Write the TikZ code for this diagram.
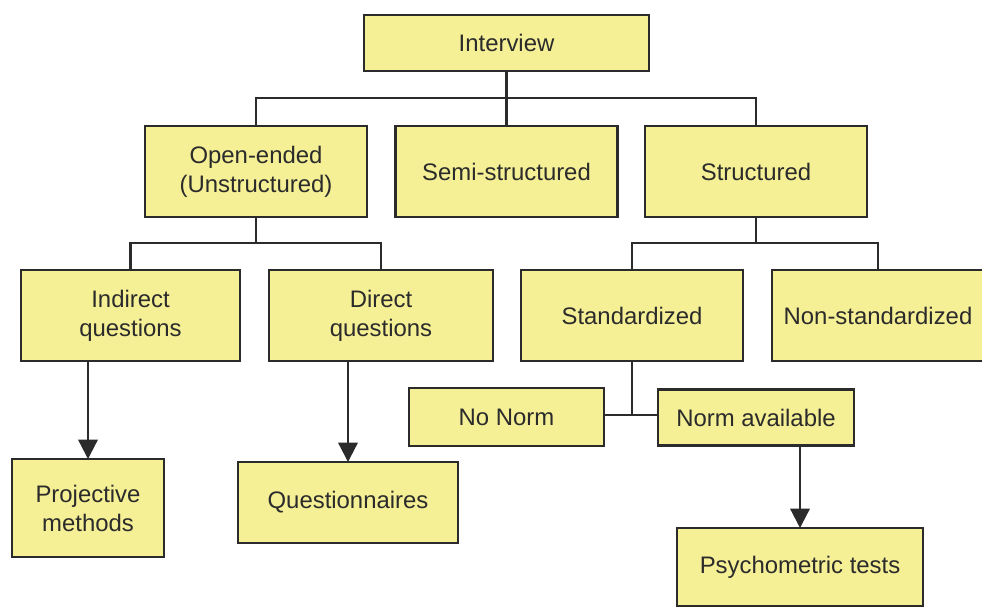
\documentclass[tikz,border=0pt]{standalone}
\usepackage{fontspec}
\setmainfont{Liberation Sans}
\usepackage{xcolor}
\usepackage{tikz}
\usetikzlibrary{arrows.meta,positioning}
\definecolor{boxfill}{HTML}{F5EF96}
\definecolor{ink}{HTML}{2B2B2B}
\tikzset{
  box/.style={draw=ink, fill=boxfill, line width=1.3pt, inner sep=0pt, outer sep=0pt,
    align=center, text=ink, font=\fontsize{13.6}{16.5}\selectfont},
  link/.style={draw=ink, line width=1.3pt},
  arr/.style={link, -{Triangle[length=11pt,width=11pt]}},
}

\begin{document}
\begin{tikzpicture}[x=0.02cm, y=-0.02cm]
  \useasboundingbox (0,0) rectangle (982,608);
  % level 0 and 1
  \node[box, minimum width=5.70cm, minimum height=1.12cm] (interview) at (506.5,43) {Interview};
  \node[box, minimum width=4.44cm, minimum height=1.82cm] (openended) at (256,171.5) {Open-ended\\(Unstructured)};
  \node[box, minimum width=4.44cm, minimum height=1.82cm] (semi) at (506.5,171.5) {Semi-structured};
  \node[box, minimum width=4.44cm, minimum height=1.82cm] (structured) at (756,171.5) {Structured};
  % level 2
  \node[box, minimum width=4.38cm, minimum height=1.82cm] (indirect) at (130.5,315.5) {Indirect\\questions};
  \node[box, minimum width=4.48cm, minimum height=1.82cm] (direct) at (381,315.5) {Direct\\questions};
  \node[box, minimum width=4.44cm, minimum height=1.82cm] (standardized) at (632,315.5) {Standardized};
  \node[box, minimum width=4.24cm, minimum height=1.82cm] (nonstd) at (878,315.5) {Non-standardized};
  % norms
  \node[box, minimum width=3.90cm, minimum height=1.16cm] (nonorm) at (506.5,417) {No Norm};
  \node[box, minimum width=3.92cm, minimum height=1.12cm] (normavail) at (756,417.5) {Norm available};
  % bottom
  \node[box, minimum width=3.04cm, minimum height=1.96cm] (projective) at (88,508) {Projective\\methods};
  \node[box, minimum width=4.40cm, minimum height=1.62cm] (questionnaires) at (348,502.5) {Questionnaires};
  \node[box, minimum width=4.92cm, minimum height=1.56cm] (psychometric) at (800,567) {Psychometric tests};

  \coordinate (j0) at (506.5,98);
  \coordinate (j1) at (256,243);
  \coordinate (j2) at (756,243);
  \coordinate (j3) at (632,415);
  \draw[link] (interview) -- (j0);
  \draw[link] (openended.north) |- (j0) -| (structured.north);
  \draw[link] (j0) -- (semi);
  \draw[link] (openended) -- (j1);
  \draw[link] (indirect.north) |- (j1) -| (direct.north);
  \draw[link] (structured) -- (j2);
  \draw[link] (standardized.north) |- (j2) -| (nonstd.north);
  \draw[link] (standardized.south) -- (j3);
  \draw[link] (nonorm.east |- j3) -- (normavail.west |- j3);
  \draw[arr] (indirect.south -| projective.north) -- (projective.north);
  \draw[arr] (direct.south -| questionnaires.north) -- (questionnaires.north);
  \draw[arr] (normavail.south -| psychometric.north) -- (psychometric.north);
\end{tikzpicture}
\end{document}
